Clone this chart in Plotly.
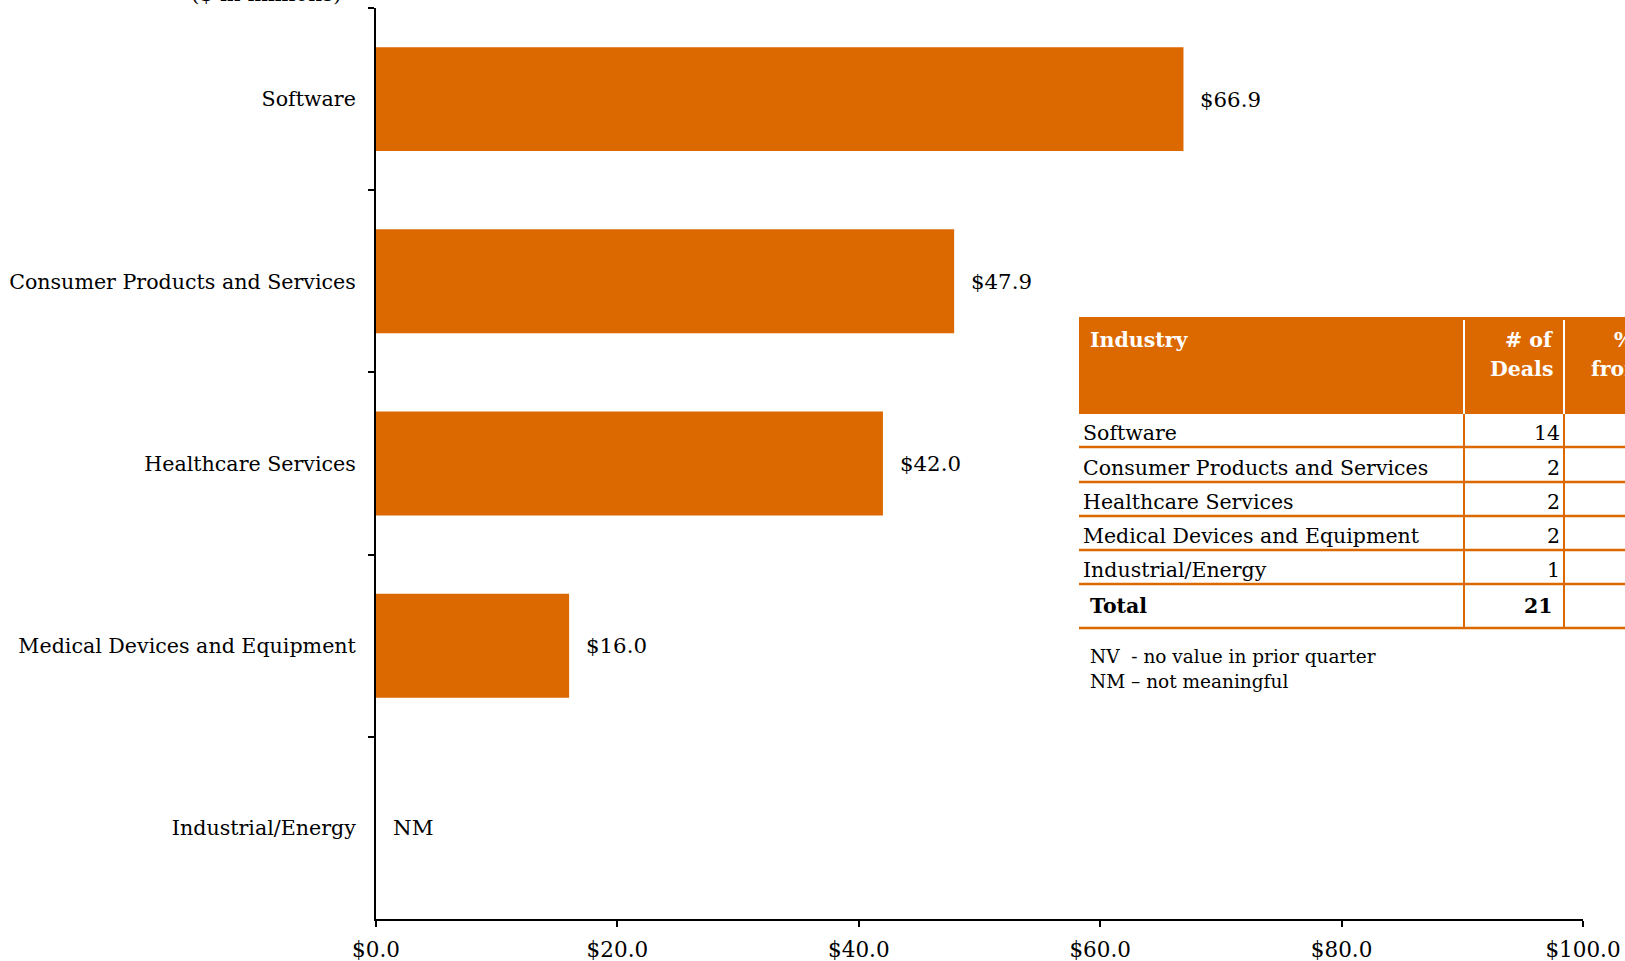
import plotly.graph_objects as go

# Chart data ($ in millions)
categories = ["Software", "Consumer Products and Services", "Healthcare Services",
              "Medical Devices and Equipment", "Industrial/Energy"]
deal_values = [66.9, 47.9, 42.0, 16.0, None]   # None -> NM

# Table data
table_industries = ["Software", "Consumer Products and Services", "Healthcare Services",
                    "Medical Devices and Equipment", "Industrial/Energy"]
table_deals = [14, 2, 2, 2, 1]
table_total = 21
notes = ["NV  - no value in prior quarter", "NM \u2013 not meaningful"]

ORANGE = "#DC6900"
FONT = "Georgia, 'DejaVu Serif', serif"
W, H = 1625, 961
ML, MR, MT, MB = 376, 42, 8, 42
PW, PH = W - ML - MR, H - MT - MB


def px(x):  # pixel x -> paper
    return (x - ML) / PW


def py(y):  # pixel y -> paper
    return (H - MB - y) / PH


fig = go.Figure(go.Bar(
    x=deal_values, y=categories, orientation="h",
    marker=dict(color=ORANGE, line=dict(width=0)),
    hoverinfo="skip",
))

annotations = []
# value labels
for cat, v in zip(categories, deal_values):
    annotations.append(dict(
        x=v if v is not None else 0, y=cat, xref="x", yref="y",
        text=f"${v:.1f}" if v is not None else "NM",
        showarrow=False, xanchor="left", xshift=15,
        font=dict(family=FONT, size=21.3, color="black"),
    ))

# cut-off unit title at the top
annotations.append(dict(x=px(266), y=py(-6), xref="paper", yref="paper",
                        text="($ in millions)", showarrow=False,
                        xanchor="center", yanchor="middle",
                        font=dict(family=FONT, size=21.5, color="black")))

# ---- table drawn with shapes / annotations ----
shapes = []
T_LEFT, T_RIGHT = 1079, 1700
HDR_TOP, HDR_BOT = 317, 414
COL1, COL2 = 1464, 1564
row_bottoms = [447, 482, 516, 550, 584]
total_bottom = 628

shapes.append(dict(type="rect", xref="paper", yref="paper",
                   x0=px(T_LEFT), x1=px(T_RIGHT), y0=py(HDR_BOT), y1=py(HDR_TOP),
                   fillcolor=ORANGE, line=dict(width=0), layer="above"))
for cx in (COL1, COL2):
    shapes.append(dict(type="line", xref="paper", yref="paper",
                       x0=px(cx), x1=px(cx), y0=py(320), y1=py(HDR_BOT),
                       line=dict(color="white", width=2), layer="above"))
    shapes.append(dict(type="line", xref="paper", yref="paper",
                       x0=px(cx), x1=px(cx), y0=py(HDR_BOT), y1=py(total_bottom),
                       line=dict(color=ORANGE, width=2), layer="above"))
for yb in row_bottoms + [total_bottom]:
    shapes.append(dict(type="line", xref="paper", yref="paper",
                       x0=px(T_LEFT), x1=px(T_RIGHT), y0=py(yb), y1=py(yb),
                       line=dict(color=ORANGE, width=2.5), layer="above"))

hdr_font = dict(family=FONT, size=20.5, color="white")


def txt(x, y, s, anchor, font):
    annotations.append(dict(x=px(x), y=py(y), xref="paper", yref="paper", text=s,
                            showarrow=False, xanchor=anchor, yanchor="middle", font=font))


txt(1088, 340, "<b>Industry</b>", "left", hdr_font)
txt(1555, 340, "<b># of</b>", "right", hdr_font)
txt(1555, 369, "<b>Deals</b>", "right", hdr_font)
txt(1612, 340, "<b>% Change</b>", "left", hdr_font)
txt(1589, 369, "<b>from Prior Qtr</b>", "left", hdr_font)

cell_font = dict(family=FONT, size=20.5, color="black")
for name, n, yb in zip(table_industries, table_deals, row_bottoms):
    txt(1081, yb - 14, name, "left", cell_font)
    txt(1562, yb - 14, str(n), "right", cell_font)
txt(1088, total_bottom - 22, "<b>Total</b>", "left", cell_font)
txt(1555, total_bottom - 22, f"<b>{table_total}</b>", "right", cell_font)

note_font = dict(family=FONT, size=18.5, color="black")
for i, s in enumerate(notes):
    txt(1088, 656 + 25 * i, s, "left", note_font)

fig.update_layout(
    width=W, height=H,
    margin=dict(l=ML, r=MR, t=MT, b=MB),
    plot_bgcolor="white", paper_bgcolor="white",
    showlegend=False, bargap=0.43,
    font=dict(family=FONT, size=21, color="black"),
    xaxis=dict(range=[0, 100], dtick=20, tickprefix="$", tickformat=".1f",
               showgrid=False, zeroline=False, showline=True, linecolor="black",
               linewidth=2, ticks="outside", ticklen=6, tickwidth=2, tickcolor="black",
               ticklabelstandoff=4,
               tickfont=dict(family=FONT, size=21.5), automargin=False),
    yaxis=dict(autorange="reversed", showgrid=False, zeroline=False, showline=True,
               linecolor="black", linewidth=2, ticks="outside", ticklen=6, tickwidth=2,
               tickcolor="black", tickson="boundaries", ticklabelstandoff=14,
               tickfont=dict(family=FONT, size=20.6), automargin=False),
    shapes=shapes, annotations=annotations,
)

# drop the default page margin so the figure fills the window exactly
fig.write_html("out.html", config={"displayModeBar": False},
               post_script="document.body.style.margin = '0';")
